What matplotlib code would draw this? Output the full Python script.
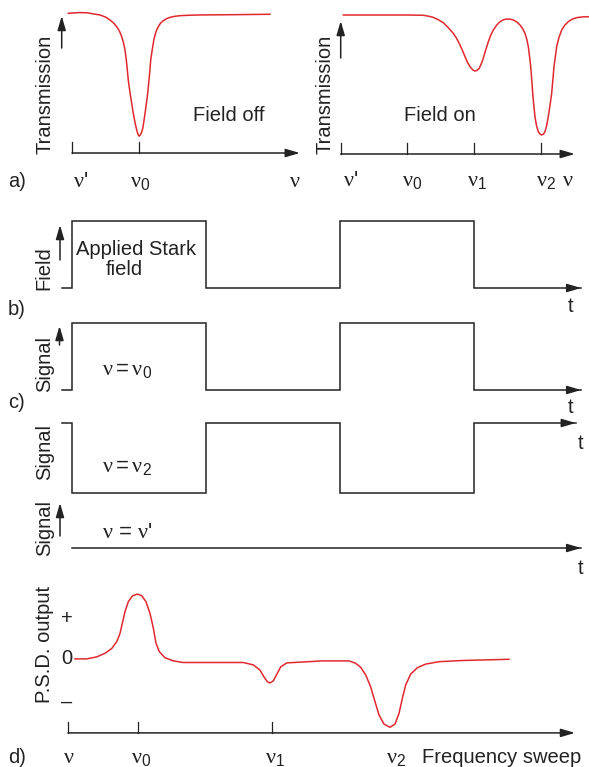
import matplotlib

matplotlib.use("Agg")

import matplotlib.pyplot as plt
from matplotlib.patches import FancyArrowPatch
from matplotlib.transforms import Affine2D

W, H = 589, 767
INK = "#222222"
RED = "#e0282e"

# (a) transmission vs frequency, field off (nu' = 0, nu0 = 1)
NU_OFF = [-0.055, 0.10, 0.219, 0.33, 0.418, 0.50, 0.567, 0.62, 0.667, 0.71, 0.742, 0.77,
          0.791, 0.805, 0.816, 0.828, 0.840, 0.858, 0.876, 0.895, 0.915, 0.94, 0.966,
          0.985, 1.0, 1.018, 1.038, 1.055, 1.072, 1.090, 1.107, 1.124, 1.140, 1.154,
          1.165, 1.175, 1.19, 1.205, 1.22, 1.239, 1.26, 1.288, 1.32, 1.363, 1.41, 1.463,
          1.53, 1.612, 1.75, 1.910, 2.403, 2.955]
T_OFF = [1.005, 1.01, 1.009, 1.0, 0.993, 0.978, 0.957, 0.935, 0.909, 0.875, 0.837, 0.79,
         0.741, 0.69, 0.645, 0.585, 0.525, 0.46, 0.405, 0.345, 0.285, 0.22, 0.165,
         0.133, 0.122, 0.128, 0.148, 0.175, 0.225, 0.285, 0.345, 0.405, 0.48, 0.549,
         0.61, 0.669, 0.72, 0.765, 0.81, 0.849, 0.88, 0.909, 0.933, 0.952, 0.966, 0.976,
         0.983, 0.988, 0.991, 0.993, 0.995, 0.998]
TICKS_OFF = [0, 1]

# (a) field on (nu' = 0, nu0 = 1, nu1 = 2, nu2 = 3)
NU_ON = [0.039, 1.0, 1.238, 1.31, 1.388, 1.46, 1.538, 1.61, 1.688, 1.74, 1.789, 1.83,
         1.864, 1.90, 1.939, 1.98, 2.01, 2.04, 2.078, 2.108, 2.138, 2.175, 2.213, 2.25,
         2.288, 2.34, 2.388, 2.44, 2.489, 2.54, 2.588, 2.64, 2.688, 2.73, 2.763, 2.79,
         2.813, 2.832, 2.849, 2.865, 2.879, 2.895, 2.913, 2.935, 2.963, 2.99, 3.014,
         3.04, 3.063, 3.088, 3.112, 3.138, 3.163, 3.18, 3.198, 3.218, 3.238, 3.27,
         3.313, 3.36, 3.412, 3.47, 3.538, 3.62, 3.723]
T_ON = [1.0, 1.0, 0.998, 0.992, 0.983, 0.967, 0.945, 0.91, 0.868, 0.83, 0.784, 0.74,
        0.700, 0.66, 0.628, 0.605, 0.597, 0.600, 0.617, 0.65, 0.689, 0.75, 0.808, 0.855,
        0.892, 0.928, 0.952, 0.966, 0.971, 0.970, 0.964, 0.95, 0.928, 0.90, 0.868, 0.825,
        0.772, 0.70, 0.628, 0.53, 0.436, 0.35, 0.268, 0.205, 0.160, 0.142, 0.137,
        0.143, 0.160, 0.205, 0.268, 0.35, 0.436, 0.53, 0.628, 0.70, 0.772, 0.835,
        0.892, 0.927, 0.952, 0.970, 0.981, 0.986, 0.988]
TICKS_ON = [0, 1, 2, 3]

# (b), (c) square waves: switching times and levels between them
T_START = -0.075
SWITCH_TIMES = [0, 1, 2, 3]
FIELD = [0, 1, 0, 1, 0]
SIGNAL_NU0 = [0, 1, 0, 1, 0]
SIGNAL_NU2 = [1, 0, 1, 0, 1]
SIGNAL_NUP = [0, 0, 0, 0, 0]

# (d) phase-sensitive detector output vs frequency sweep (% of sweep)
SWEEP = [1.38, 3.69, 5.66, 7.30, 8.62, 9.61, 10.26, 10.79, 11.24, 11.89, 12.76, 13.75,
         14.54, 15.38, 16.17, 16.83, 17.36, 18.01, 19.13, 20.77, 22.74, 34.58, 36.55,
         37.87, 38.66, 39.31, 39.84, 40.49, 41.16, 41.95, 43.14, 50.16, 55.42, 56.74,
         57.73, 58.72, 59.70, 60.55, 61.34, 62.33, 63.51, 64.50, 65.29, 65.94, 66.61,
         67.59, 68.90, 70.55, 73.18, 77.77, 86.98]
PSD = [0.01, 0.01, 0.06, 0.15, 0.27, 0.44, 0.65, 0.94, 1.19, 1.44, 1.59, 1.63,
       1.59, 1.44, 1.15, 0.78, 0.40, 0.19, 0.04, -0.04, -0.08, -0.08, -0.14,
       -0.27, -0.44, -0.56, -0.59, -0.54, -0.38, -0.19, -0.09, -0.04, -0.04, -0.10,
       -0.20, -0.39, -0.69, -1.06, -1.39, -1.62, -1.70, -1.62, -1.35, -0.98, -0.64,
       -0.37, -0.21, -0.12, -0.06, -0.03, 0.0]
TICKS_D = [0, 13.8, 40.2]

plt.rcParams["font.family"] = ["Liberation Sans", "DejaVu Sans"]
plt.rcParams["mathtext.fontset"] = "custom"
plt.rcParams["mathtext.rm"] = "Liberation Sans"
plt.rcParams["mathtext.it"] = "Liberation Serif"
FS = 14.5
FS_NU = 16

fig = plt.figure(figsize=(W / 100, H / 100), dpi=100)
PX = Affine2D().scale(1 / W, -1 / H).translate(0, 1) + fig.transFigure

ARROW = "-|>,head_length=0.85,head_width=0.25"


def add_panel(x0, y0, sx, sy, xlim, ylim):
    # x0, y0: pixel position of data origin; sx, sy: pixels per data unit
    left, right = x0 + sx * xlim[0], x0 + sx * xlim[1]
    bottom, top = y0 - sy * ylim[0], y0 - sy * ylim[1]
    ax = fig.add_axes([left / W, 1 - bottom / H, (right - left) / W, (bottom - top) / H])
    ax.set_xlim(*xlim)
    ax.set_ylim(*ylim)
    ax.axis("off")
    return ax


def axis_arrow(ax, x0, x1, y):
    ax.annotate("", xy=(x1, y), xytext=(x0, y),
                arrowprops=dict(arrowstyle=ARROW, color=INK, lw=1.1, shrinkA=0, shrinkB=0,
                                mutation_scale=10))


def ticks(ax, xs, height, y=0):
    for x in xs:
        ax.plot([x, x], [y, y + height], color=INK, lw=0.9, clip_on=False)


def up_arrow(x, y_tail, y_head):
    fig.add_artist(FancyArrowPatch((x, y_tail), (x, y_head), transform=PX, arrowstyle=ARROW,
                                   color=INK, lw=1.1, mutation_scale=10, shrinkA=0, shrinkB=0))


def label(x, y, s, ha="left", va="baseline", size=FS, **kw):
    fig.text(x, y, s, transform=PX, ha=ha, va=va, fontsize=size, color=INK, **kw)


def waveform(ax, levels, t0, t_end):
    edges = [t0] + SWITCH_TIMES + [t_end]
    xs, ys = [], []
    for i, lev in enumerate(levels):
        xs += [edges[i], edges[i + 1]]
        ys += [lev, lev]
    ax.plot(xs, ys, color=INK, lw=1.1, clip_on=False, solid_joinstyle="miter")
    axis_arrow(ax, t_end - 0.1, t_end, levels[-1])


# ---- (a) left: field off
ax = add_panel(72, 153, 67, 139, (-0.3, 3.45), (-0.05, 1.05))
ax.plot(NU_OFF, T_OFF, color=RED, lw=1.1, clip_on=False)
axis_arrow(ax, 0, 3.40, 0)
ticks(ax, TICKS_OFF, 0.08)
up_arrow(61.7, 48, 16)
label(45, 94, "Transmission", ha="center", va="center", rotation=90)
label(193, 121, "Field off")
label(8, 187, "a)")
label(73, 187, r"$\nu$'", size=FS_NU)
label(130, 187, r"$\nu_0$", size=FS_NU)
label(289, 187, r"$\nu$", size=FS_NU)

# ---- (a) right: field on
ax = add_panel(340.7, 154, 66.7, 139, (-0.1, 3.75), (-0.05, 1.05))
ax.plot(NU_ON, T_ON, color=RED, lw=1.1, clip_on=False)
axis_arrow(ax, 0, 3.51, 0)
ticks(ax, TICKS_ON, 0.08)
up_arrow(340.7, 58, 21)
label(325, 94, "Transmission", ha="center", va="center", rotation=90)
label(404, 121, "Field on")
label(343, 186, r"$\nu$'", size=FS_NU)
label(402, 186, r"$\nu_0$", size=FS_NU)
label(467, 186, r"$\nu_1$", size=FS_NU)
label(536, 186, r"$\nu_2$", size=FS_NU)
label(562, 186, r"$\nu$", size=FS_NU)

# ---- (b) applied Stark field
ax = add_panel(72, 288, 134, 67, (-0.2, 3.85), (-0.1, 1.1))
waveform(ax, FIELD, T_START, 3.80)
up_arrow(60, 260, 225)
label(44, 268, "Field", ha="center", va="center", rotation=90)
label(76, 255, "Applied Stark")
label(106, 275, "field")
label(8, 315, "b)")
label(571, 312, "t", ha="center")

# ---- (c) signal at nu0
ax = add_panel(72, 390, 134, 67, (-0.2, 3.85), (-0.1, 1.1))
waveform(ax, SIGNAL_NU0, T_START, 3.80)
up_arrow(59.5, 345, 326)
label(45, 364, "Signal", ha="center", va="center", rotation=90)
label(102, 375, r"$\nu = \nu_0$", size=FS_NU)
label(8, 408, "c)")
label(571, 413, "t", ha="center")

# ---- signal at nu2
ax = add_panel(72, 493, 134, 70, (-0.2, 3.85), (-0.1, 1.1))
waveform(ax, SIGNAL_NU2, T_START, 3.76)
label(45, 452, "Signal", ha="center", va="center", rotation=90)
label(102, 472, r"$\nu = \nu_2$", size=FS_NU)
label(581, 449, "t", ha="center")

# ---- signal at nu'
ax = add_panel(72, 548, 134, 67, (-0.2, 3.85), (-0.1, 1.1))
waveform(ax, SIGNAL_NUP, 0.0, 3.80)
up_arrow(60, 536, 503)
label(45, 528, "Signal", ha="center", va="center", rotation=90)
label(102, 538, r"$\nu$ = $\nu$'", size=FS_NU)
label(581, 574, "t", ha="center")

# ---- (d) P.S.D. output
ax = add_panel(68, 659.3, 5.07, 40, (-2, 102), (-1.95, 1.9))
ax.plot(SWEEP, PSD, color=RED, lw=1.1, clip_on=False)
axis_arrow(ax, 0, 100, -1.84)
ticks(ax, TICKS_D, 0.28, y=-1.84)
label(45, 644, "P.S.D. output", ha="center", va="center", rotation=90)
label(67, 619, "+", ha="center", va="center")
label(67, 659, "0", ha="center", va="center")
label(67, 702, "\u2013", ha="center", va="center")
label(8, 763, "d)")
label(63, 763, r"$\nu$", size=FS_NU)
label(131, 763, r"$\nu_0$", size=FS_NU)
label(265, 763, r"$\nu_1$", size=FS_NU)
label(386, 763, r"$\nu_2$", size=FS_NU)
label(422, 763, "Frequency sweep")

fig.savefig("out.png", dpi=100, facecolor="white")
